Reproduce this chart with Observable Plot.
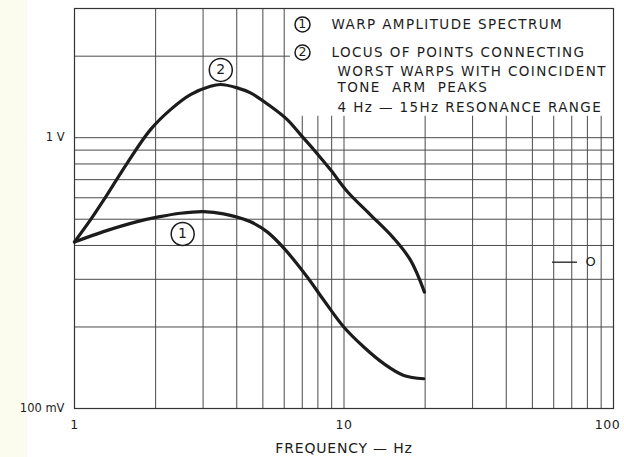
<!DOCTYPE html>
<html>
<head>
<meta charset="utf-8">
<script src="https://cdn.jsdelivr.net/npm/d3@7"></script>
<script src="https://cdn.jsdelivr.net/npm/@observablehq/plot@0.6"></script>
<style>
  html, body { margin: 0; padding: 0; }
  body { width: 624px; height: 457px; overflow: hidden;
         background: linear-gradient(to right, #fcfcee 0px, #fcfcee 27px, #ffffff 27px); }
  svg { display: block; background: transparent !important; }
</style>
</head>
<body>
<div id="chart"></div>
<script>
// ---- data ----
// (1) warp amplitude spectrum
const curve1Freq = [1, 1.281, 1.709, 2.05, 2.474, 3.011, 3.572, 4.499, 5.188, 5.98, 7.302, 8.416, 9.98, 11.84, 14.05, 16.67, 19.78];
const curve1Volt = [0.412, 0.450, 0.490, 0.510, 0.526, 0.533, 0.523, 0.489, 0.449, 0.391, 0.306, 0.251, 0.200, 0.1687, 0.1464, 0.1325, 0.1288];
// (2) locus of points connecting worst warps with coincident tone arm peaks
const curve2Freq = [1, 1.146, 1.284, 1.569, 1.914, 2.271, 2.694, 3.196, 3.481, 4.016, 4.499, 5.337, 6.157, 6.898, 7.727, 8.912, 10.28, 12.54, 15.30, 17.65, 19.89];
const curve2Volt = [0.412, 0.497, 0.589, 0.806, 1.071, 1.27, 1.443, 1.549, 1.572, 1.528, 1.464, 1.306, 1.166, 1.026, 0.903, 0.761, 0.633, 0.519, 0.425, 0.353, 0.269];

const xGrid = [1, 2, 3, 4, 5, 6, 7, 8, 9, 10, 20, 30, 40, 50, 60, 70, 80, 90, 100];
const yGrid = [0.1, 0.2, 0.3, 0.4, 0.5, 0.6, 0.7, 0.8, 0.9, 1, 2, 3];
const xTickValues = [1, 10];
const xTickLabels = ["1", "10"];
const xLastTick = 100;
const xLastTickLabel = "100";
const yTickValues = [1, 0.1];
const yTickLabels = ["1 V", "100 mV"];
const legendLines = [
  "WARP AMPLITUDE SPECTRUM",
  "LOCUS OF POINTS CONNECTING",
  "WORST WARPS WITH COINCIDENT",
  "TONE  ARM  PEAKS",
  "4 Hz \u2014 15Hz RESONANCE RANGE"
];
const xLabel = "FREQUENCY \u2014 Hz";
const markerLabel = "O";

const c1 = curve1Freq.map((f, i) => ({f, v: curve1Volt[i]}));
const c2 = curve2Freq.map((f, i) => ({f, v: curve2Volt[i]}));
const legendX = [8.99, 8.99, 9.46, 9.46, 9.46];
const legendY = [2.62, 2.064, 1.756, 1.532, 1.291];
const legendData = legendLines.map((t, i) => ({t, x: legendX[i], y: legendY[i]}));
const curveTags = [{x: 3.49, y: 1.78, t: "2"}, {x: 2.52, y: 0.441, t: "1"}];
const legendTags = [{x: 7.015, y: 2.62, t: "1"}, {x: 7.015, y: 2.064, t: "2"}];

const font = "DejaVu Sans, sans-serif";
const ink = "#1c1c1c";
const gridInk = "#4a4a4a";

const chart = Plot.plot({
  width: 624,
  height: 457,
  marginLeft: 74,
  marginRight: 11,
  marginTop: 8,
  marginBottom: 49,
  style: {fontFamily: font, background: "transparent"},
  x: {type: "log", domain: [1, 100], axis: null},
  y: {type: "log", domain: [0.1, 3], axis: null},
  marks: [
    Plot.ruleX(xGrid, {stroke: gridInk, strokeWidth: 1}),
    Plot.ruleY(yGrid, {stroke: gridInk, strokeWidth: 1}),
    // white legend panel covering the grid
    Plot.rect([0], {x1: 6.33, x2: 100, y1: 1.2, y2: 3, fill: "white"}),
    Plot.frame({stroke: "#333", strokeWidth: 1.2}),
    Plot.line(c2, {x: "f", y: "v", stroke: ink, strokeWidth: 3.2, curve: "catmull-rom"}),
    Plot.line(c1, {x: "f", y: "v", stroke: ink, strokeWidth: 3.2, curve: "catmull-rom"}),
    // circled curve labels
    Plot.dot(curveTags, {x: "x", y: "y", r: 11.5, fill: "white", stroke: ink, strokeWidth: 1.5}),
    Plot.text(curveTags, {x: "x", y: "y", text: "t", fontSize: 14, fill: ink}),
    // legend
    Plot.dot(legendTags, {x: "x", y: "y", r: 7.5, fill: "white", stroke: ink, strokeWidth: 1.5}),
    Plot.text(legendTags, {x: "x", y: "y", text: "t", fontSize: 12.5, fill: ink}),
    Plot.text(legendData, {x: "x", y: "y", text: "t", textAnchor: "start",
      fontSize: 13.5, fill: ink}),
    // "— O" annotation
    Plot.ruleY([0.347], {x1: 59.4, x2: 73.5, stroke: ink, strokeWidth: 1.3}),
    Plot.text([markerLabel], {x: 82.2, y: 0.347, text: d => d, fontSize: 13, fill: ink}),
    // axis labels
    Plot.text(xTickValues, {x: d => d, y: 0.1, text: (d, i) => xTickLabels[i], dy: 16,
      fontSize: 12.5, fill: ink}),
    Plot.text([xLastTick], {x: d => d, y: 0.1, text: () => xLastTickLabel, dy: 16, dx: -6,
      fontSize: 12.5, fill: ink}),
    Plot.text(yTickValues, {x: 1, y: d => d, text: (d, i) => yTickLabels[i], dx: -10,
      textAnchor: "end", fontSize: 11.5, fill: ink}),
    Plot.text([xLabel], {x: 10, y: 0.1, text: d => d, dy: 40,
      fontSize: 14, fill: ink})
  ]
});
// letter spacing for the wide, spaced lettering of the original
chart.querySelectorAll("text").forEach(t => {
  const s = t.textContent;
  if (legendLines.includes(s)) t.style.letterSpacing = "1.4px";
  else if (s === xLabel) t.style.letterSpacing = "0.8px";
  else if (xTickLabels.includes(s) || s === xLastTickLabel) t.style.letterSpacing = "0.6px";
});
document.getElementById("chart").appendChild(chart);
</script>
</body>
</html>
